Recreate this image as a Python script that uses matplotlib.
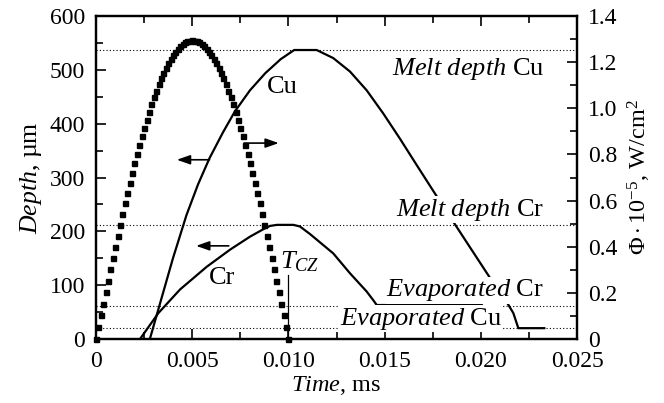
import numpy as np
import matplotlib
matplotlib.use("Agg")
import matplotlib.pyplot as plt
from matplotlib.ticker import MultipleLocator

plt.rcParams['font.family'] = ['Liberation Serif', 'DejaVu Serif']
plt.rcParams['mathtext.fontset'] = 'custom'
plt.rcParams['mathtext.rm'] = 'Liberation Serif'
plt.rcParams['mathtext.it'] = 'Liberation Serif:italic'

# laser flux pulse (right axis, 10^5 W/cm^2), sampled every 0.000125 ms
flux_t = np.arange(81) * 0.000125
flux_half = [0.000, 0.051, 0.102, 0.152, 0.203, 0.253, 0.302, 0.352, 0.400, 0.448,
             0.496, 0.542, 0.588, 0.633, 0.677, 0.719, 0.761, 0.802, 0.841, 0.879,
             0.916, 0.951, 0.985, 1.017, 1.048, 1.077, 1.104, 1.130, 1.154, 1.176,
             1.196, 1.215, 1.232, 1.246, 1.259, 1.270, 1.279, 1.286, 1.291, 1.294, 1.295]
flux = flux_half + flux_half[-2::-1]

# melt depth of Cu (um)
cu_t = [0.0028, 0.00324, 0.0040, 0.0047, 0.0053, 0.0059, 0.0066, 0.00722, 0.0080, 0.0088,
        0.0096, 0.0103, 0.01147, 0.01233, 0.0132, 0.01407, 0.01493, 0.0158, 0.01667, 0.01753,
        0.0184, 0.01926, 0.02065, 0.02134, 0.02169, 0.02195, 0.0233]
cu_d = [0, 55, 150, 230, 287, 336, 384, 423, 462, 494,
        520, 537, 537, 522, 497, 462, 419, 372, 323, 275,
        227, 180, 104, 69, 48, 20, 20]

# melt depth of Cr (um)
cr_t = [0.00229, 0.00324, 0.00437, 0.00575, 0.00697, 0.0080, 0.0087, 0.00904, 0.0094, 0.01026,
        0.0106, 0.01112, 0.01233, 0.0132, 0.01407, 0.01441, 0.01459, 0.02005]
cr_d = [0, 48, 92, 134, 166, 190, 204, 210, 212, 212,
        209, 195, 159, 122, 88, 72, 63, 63]

levels = [537, 212, 62, 20]
tcz_t = 0.010
tcz_top = 119

fig = plt.figure(figsize=(6.64, 4.03), dpi=100)
ax = fig.add_axes([0.1446, 0.159, 0.7244, 0.801])
ax2 = ax.twinx()

for lv in levels:
    ax.axhline(lv, color='black', lw=0.8, ls=(0, (1, 2)), zorder=1)

ax.plot(cu_t, cu_d, color='black', lw=1.6, zorder=2)
ax.plot(cr_t, cr_d, color='black', lw=1.6, zorder=2)
ax.plot([tcz_t, tcz_t], [0, tcz_top], color='black', lw=0.9, zorder=2)

ax2.plot(flux_t, flux, ls='none', marker='s', ms=3.6, color='black', clip_on=False)

fs = 17     # ticks
ft = 19     # annotations
box = dict(facecolor='white', edgecolor='none', pad=0.3)
ax.text(0.0233, 491, r'$\mathit{Melt\ depth}$ Cu', ha='right', va='baseline', fontsize=ft, zorder=5)
ax.text(0.0233, 229, r'$\mathit{Melt\ depth}$ Cr', ha='right', va='baseline', fontsize=ft, bbox=box, zorder=5)
ax.text(0.0233, 79, r'$\mathit{Evaporated}$ Cr', ha='right', va='baseline', fontsize=ft, bbox=box, zorder=5)
ax.text(0.0211, 26, r'$\mathit{Evaporated}$ Cu', ha='right', va='baseline', fontsize=ft, bbox=box, zorder=5)
ax.text(0.00968, 468, 'Cu', ha='center', va='center', fontsize=ft)
ax.text(0.00654, 113, 'Cr', ha='center', va='center', fontsize=ft)
ax.text(0.00956, 132, r'$T_{CZ}$', ha='left', va='baseline', fontsize=ft)

arrows = [((0.0059, 333), (0.0042, 333)),
          ((0.0077, 364), (0.0095, 364)),
          ((0.0069, 173), (0.0052, 173))]
for tail, head in arrows:
    ax.annotate('', xy=head, xytext=tail,
                arrowprops=dict(arrowstyle='-|>,head_length=0.8,head_width=0.28',
                                color='black', lw=1.2, shrinkA=0, shrinkB=0))

ax.set_xlim(0, 0.025)
ax.set_ylim(0, 600)
ax2.set_ylim(0, 1.4)

ax.set_xticks([0, 0.005, 0.01, 0.015, 0.02, 0.025])
ax.set_xticklabels(['0', '0.005', '0.010', '0.015', '0.020', '0.025'])
ax.xaxis.set_minor_locator(MultipleLocator(0.0025))
ax.yaxis.set_major_locator(MultipleLocator(100))
ax.yaxis.set_minor_locator(MultipleLocator(50))
ax2.set_yticks([0, 0.2, 0.4, 0.6, 0.8, 1.0, 1.2, 1.4])
ax2.set_yticklabels(['0', '0.2', '0.4', '0.6', '0.8', '1.0', '1.2', '1.4'])
ax2.yaxis.set_minor_locator(MultipleLocator(0.1))

ax.tick_params(axis='x', which='both', direction='in', top=True, labelsize=fs, pad=9)
ax.tick_params(axis='y', which='both', direction='in', labelsize=fs, pad=8)
ax2.tick_params(axis='y', which='both', direction='in', labelsize=fs, pad=8)
for a in (ax, ax2):
    a.tick_params(which='major', length=7, width=1.2)
    a.tick_params(which='minor', length=5, width=1.2)
    for s in a.spines.values():
        s.set_linewidth(1.6)

ax.set_xlabel(r'$\mathit{Time}$, ms', fontsize=17.5, labelpad=1)
ax.set_ylabel(r'$\mathit{Depth}$, µm', fontsize=18.5, labelpad=4)
ax2.set_ylabel(r'$\Phi\cdot10^{-5}$, W/cm$^2$', fontsize=17.5, labelpad=6)

fig.savefig('out.png', dpi=100)
